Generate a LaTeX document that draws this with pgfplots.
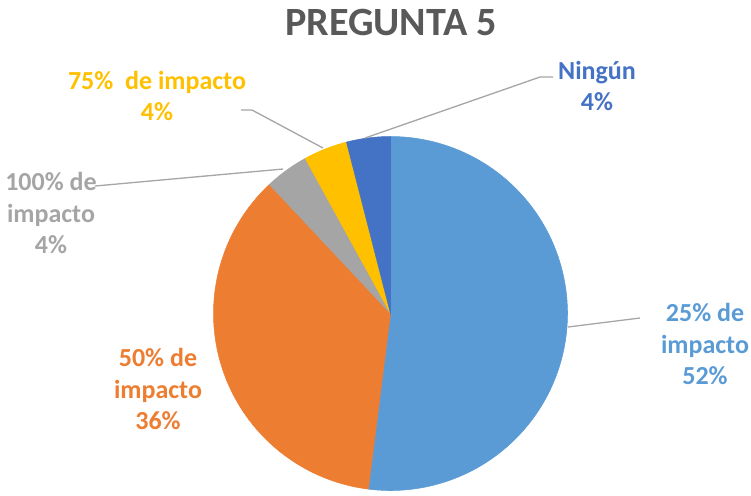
\documentclass[border=0pt]{standalone}
\usepackage{pgfplots}
\pgfplotsset{compat=1.18}
\usepackage{fontspec}
\setmainfont{Carlito}

\definecolor{cA}{HTML}{5B9BD5}
\definecolor{cB}{HTML}{ED7D31}
\definecolor{cC}{HTML}{A5A5A5}
\definecolor{cD}{HTML}{FFC000}
\definecolor{cE}{HTML}{4472C4}
\definecolor{titlecol}{HTML}{595959}
\definecolor{leader}{HTML}{A6A6A6}

\newcommand\lab{\fontsize{9.85}{11.9}\selectfont\bfseries}

\begin{document}
\begin{tikzpicture}
\begin{axis}[
  name=ax,
  width=10cm, height=6.5912cm, scale only axis,
  hide axis,
  xmin=0, xmax=751, ymin=0, ymax=495,
  y dir=reverse,
  clip=false,
]

% slices clockwise from 12 o'clock: 52, 36, 4, 4, 4 (percent, 3.6 deg each)
\addplot[fill=cA, draw=cA, line width=0.2pt, domain={90-3.6*52}:90, samples=150, variable=\t]
  ({390.5+177*cos(\t)},{313.5-177*sin(\t)}) -- (axis cs:390.5,313.5) -- cycle;
\addplot[fill=cB, draw=cB, line width=0.2pt, domain={90-3.6*88}:{90-3.6*52}, samples=110, variable=\t]
  ({390.5+177*cos(\t)},{313.5-177*sin(\t)}) -- (axis cs:390.5,313.5) -- cycle;
\addplot[fill=cC, draw=cC, line width=0.2pt, domain={90-3.6*92}:{90-3.6*88}, samples=20, variable=\t]
  ({390.5+177*cos(\t)},{313.5-177*sin(\t)}) -- (axis cs:390.5,313.5) -- cycle;
\addplot[fill=cD, draw=cD, line width=0.2pt, domain={90-3.6*96}:{90-3.6*92}, samples=20, variable=\t]
  ({390.5+177*cos(\t)},{313.5-177*sin(\t)}) -- (axis cs:390.5,313.5) -- cycle;
\addplot[fill=cE, draw=cE, line width=0.2pt, domain={90-3.6*100}:{90-3.6*96}, samples=20, variable=\t]
  ({390.5+177*cos(\t)},{313.5-177*sin(\t)}) -- (axis cs:390.5,313.5) -- cycle;

% leader lines
\addplot[leader, line width=0.5pt, no marks] coordinates {(365,138) (540,77) (553,77)};
\addplot[leader, line width=0.5pt, no marks] coordinates {(241,110) (252,110) (323,148)};
\addplot[leader, line width=0.5pt, no marks] coordinates {(95,186) (283,169)};
\addplot[leader, line width=0.5pt, no marks] coordinates {(568,327) (640,318)};

\node[font=\fontsize{15.2}{18}\selectfont\bfseries, text=titlecol] at (axis cs:391,22) {PREGUNTA 5};

\node[font=\lab, text=cE, align=center] at (axis cs:597,86) {Ningún\\4\%};
\node[font=\lab, text=cD, align=center] at (axis cs:157,96) {75\%\ \ de impacto\\4\%};
\node[font=\lab, text=cC, align=center] at (axis cs:51,213) {100\% de\\impacto\\4\%};
\node[font=\lab, text=cB, align=center] at (axis cs:158,389) {50\% de\\impacto\\36\%};
\node[font=\lab, text=cA, align=center] at (axis cs:705,344) {25\% de\\impacto\\52\%};

\end{axis}
\pgfresetboundingbox
\useasboundingbox (ax.south west) rectangle (ax.north east);
\end{tikzpicture}
\end{document}
